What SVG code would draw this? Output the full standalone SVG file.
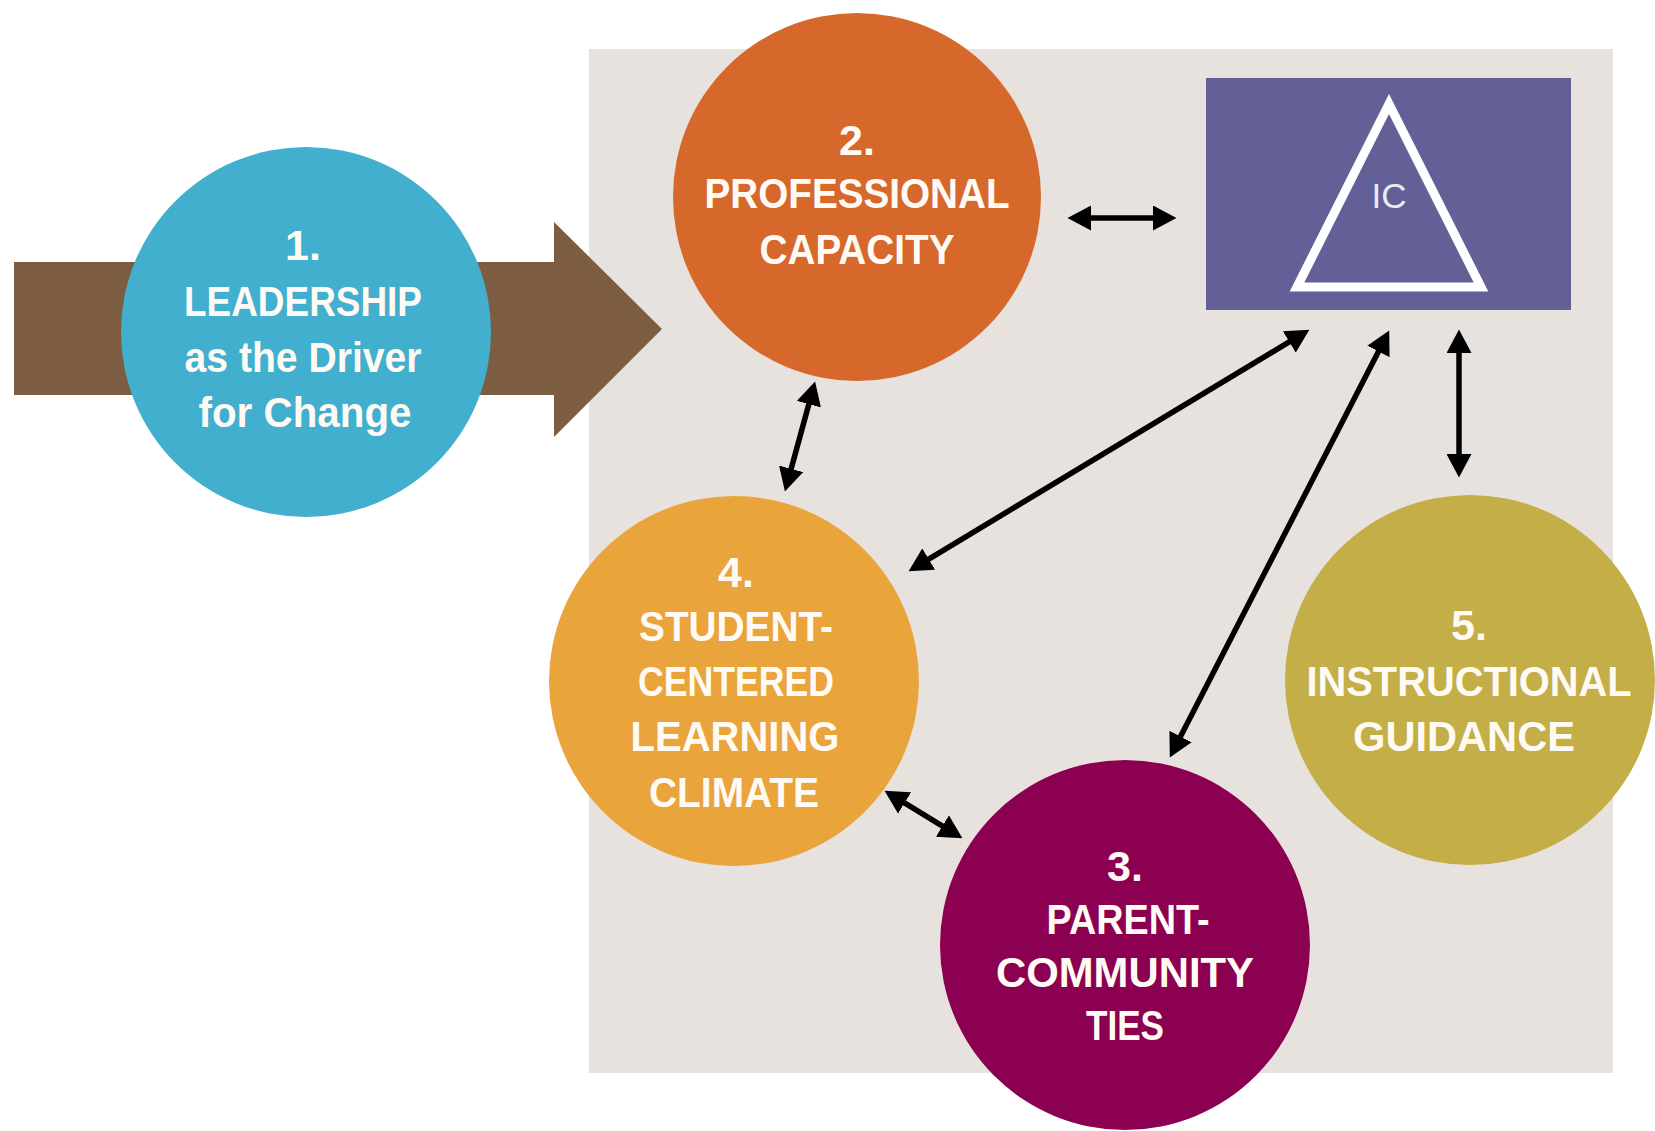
<svg xmlns="http://www.w3.org/2000/svg" width="1655" height="1131" viewBox="0 0 1655 1131">
  <style>
    .lbl { font-family: "Liberation Sans", Arial, sans-serif; font-weight: bold; font-size: 43px; fill: #FFFBF4; text-anchor: middle; }
    .ic { font-family: "Liberation Sans", Arial, sans-serif; font-size: 35px; fill: #ECEAF2; text-anchor: middle; }
    .conn { stroke: #000; stroke-width: 5.5; fill: none; marker-start: url(#ah); marker-end: url(#ah); }
  </style>
  <defs>
    <marker id="ah" markerUnits="userSpaceOnUse" markerWidth="24" markerHeight="25" viewBox="0 0 24 25" refX="13" refY="12.5" orient="auto-start-reverse">
      <path d="M0,0 L23.5,12.5 L0,25 Z" fill="#000"/>
    </marker>
  </defs>
  <rect x="0" y="0" width="1655" height="1131" fill="#FFFFFF"/>
  <rect id="panel" x="589" y="49" width="1024" height="1024" fill="#E7E2DE"/>

  <g id="driver-arrow">
    <polygon points="14,262 554,262 554,222 662,329 554,437 554,395 14,395" fill="#7D5D41"/>
  </g>

  <g id="node1">
    <circle cx="306" cy="332" r="185" fill="#41AFCD"/>
    <text class="lbl" x="303" y="260">1.</text>
    <text class="lbl" x="303" y="316" textLength="238" lengthAdjust="spacingAndGlyphs">LEADERSHIP</text>
    <text class="lbl" x="303" y="372" textLength="237" lengthAdjust="spacingAndGlyphs">as the Driver</text>
    <text class="lbl" x="305" y="427" textLength="213" lengthAdjust="spacingAndGlyphs">for Change</text>
  </g>

  <g id="node2">
    <circle cx="857" cy="197" r="184" fill="#D5682A"/>
    <text class="lbl" x="857" y="155">2.</text>
    <text class="lbl" x="857" y="208" textLength="305" lengthAdjust="spacingAndGlyphs">PROFESSIONAL</text>
    <text class="lbl" x="857" y="264" textLength="195" lengthAdjust="spacingAndGlyphs">CAPACITY</text>
  </g>

  <g id="node4">
    <circle cx="734" cy="681" r="185" fill="#E9A43C"/>
    <text class="lbl" x="736" y="587">4.</text>
    <text class="lbl" x="736" y="641" textLength="194" lengthAdjust="spacingAndGlyphs">STUDENT-</text>
    <text class="lbl" x="736" y="696" textLength="196" lengthAdjust="spacingAndGlyphs">CENTERED</text>
    <text class="lbl" x="735" y="751" textLength="209" lengthAdjust="spacingAndGlyphs">LEARNING</text>
    <text class="lbl" x="734" y="807" textLength="170" lengthAdjust="spacingAndGlyphs">CLIMATE</text>
  </g>

  <g id="node5">
    <circle cx="1470" cy="680" r="185" fill="#C4AE47"/>
    <text class="lbl" x="1469" y="640">5.</text>
    <text class="lbl" x="1469" y="696" textLength="325" lengthAdjust="spacingAndGlyphs">INSTRUCTIONAL</text>
    <text class="lbl" x="1464" y="751" textLength="222" lengthAdjust="spacingAndGlyphs">GUIDANCE</text>
  </g>

  <g id="node3">
    <circle cx="1125" cy="945" r="185" fill="#8B0051"/>
    <text class="lbl" x="1125" y="881">3.</text>
    <text class="lbl" x="1128" y="934" textLength="163" lengthAdjust="spacingAndGlyphs">PARENT-</text>
    <text class="lbl" x="1125" y="987" textLength="258" lengthAdjust="spacingAndGlyphs">COMMUNITY</text>
    <text class="lbl" x="1125" y="1040" textLength="78" lengthAdjust="spacingAndGlyphs">TIES</text>
  </g>

  <g id="nodeIC">
    <rect x="1206" y="78" width="365" height="232" fill="#626096"/>
    <polygon points="1389,104 1297,287 1481,287" fill="none" stroke="#FFFFFF" stroke-width="9" stroke-linejoin="miter"/>
    <text class="ic" x="1389" y="208">IC</text>
  </g>

  <g id="connectors">
    <line class="conn" x1="1078" y1="218" x2="1166" y2="218"/>
    <line class="conn" x1="812.3" y1="391.6" x2="787.7" y2="481.4"/>
    <line class="conn" x1="1300.4" y1="335.2" x2="917.6" y2="565.8"/>
    <line class="conn" x1="1384.4" y1="339.9" x2="1174.6" y2="748.1"/>
    <line class="conn" x1="1459" y1="340" x2="1459" y2="467"/>
    <line class="conn" x1="893.5" y1="796.2" x2="953.5" y2="832.8"/>
  </g>
</svg>
